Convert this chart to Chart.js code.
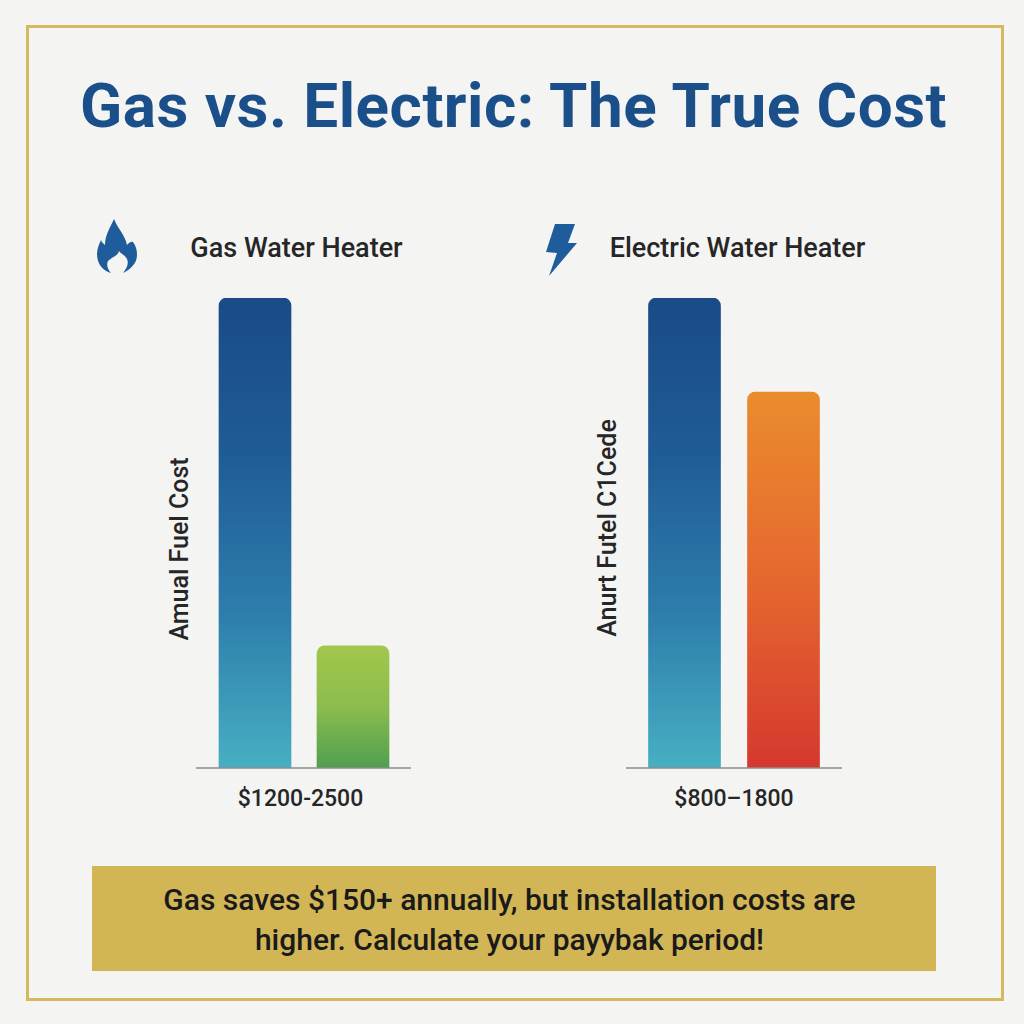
<!DOCTYPE html>
<html>
<head>
<meta charset="utf-8">
<title>Gas vs. Electric: The True Cost</title>
<script src="https://cdn.jsdelivr.net/npm/chart.js@4"></script>
<style>
html,body{margin:0;padding:0;background:#f4f4f3}
body{position:relative;width:1024px;height:1024px;overflow:hidden;font-family:Roboto,sans-serif;font-weight:700;color:#262626}
#frame{position:absolute;left:26px;top:25px;width:972px;height:970px;border:3px solid #d4b95f}
.txt{position:absolute;white-space:nowrap;transform:translate(-50%,-50%)}
.rot{position:absolute;white-space:nowrap;transform:translate(-50%,-50%) rotate(-90deg);font-size:25px;font-weight:500}
#title{left:513.5px;top:105px;font-size:62px;color:#1b4f8a;letter-spacing:.5px}
.head{font-size:27px;font-weight:500}
.range{font-size:23px;font-weight:500}
#note{position:absolute;left:92px;top:866px;width:844px;height:105px;background:#d2b655}
.noteline{font-size:30px;color:#1a1a1a;font-weight:500}
canvas{position:absolute}
#icons{position:absolute;left:0;top:0}
</style>
</head>
<body>
<div id="frame"></div>
<div class="txt" id="title"></div>

<svg id="icons" width="1024" height="1024">
<path fill="#1f5c9b" d="M114 219 C118 229 125 235 127 245 C129 243 131 241 133 242 C136 246 137 250 137 255 C137 263 131 269 123 273 C127 268 129 263 127 259 C125 255 121 254 119 251 C118 256 112 257 108 261 C106 265 108 270 111 273 C103 271 97 264 97 254 C97 249 99 244 101 240 C102 243 104 244 105 245 C105 235 110 228 114 219 Z"/>
<path fill="#1f5c9b" d="M555 224 L575 224 L568 243 L577 243 L549 276 L557 253 L546 252 Z"/>
</svg>

<div class="txt head" id="gasHead" style="left:296.5px;top:248px"></div>
<div class="txt head" id="elecHead" style="left:737.5px;top:248px"></div>

<canvas id="gasChart" width="215" height="480" style="left:196px;top:290px"></canvas>
<canvas id="elecChart" width="216" height="480" style="left:626px;top:290px"></canvas>

<div class="rot" id="gasAxis" style="left:179px;top:549px"></div>
<div class="rot" id="elecAxis" style="left:607px;top:528px"></div>
<div class="txt range" id="gasRange" style="left:300.5px;top:798px"></div>
<div class="txt range" id="elecRange" style="left:734px;top:798px"></div>

<div id="note"></div>
<div class="txt noteline" id="note1" style="left:509.5px;top:899px"></div>
<div class="txt noteline" id="note2" style="left:509.5px;top:939px"></div>

<script>
const titleText = "Gas vs. Electric: The True Cost"
const chartHeads = ["Gas Water Heater", "Electric Water Heater"]
const axisTitles = ["Amual Fuel Cost", "Anurt Futel C1Cede"]
const rangeLabels = ["$1200-2500", "$800–1800"]
const noteLines = ["Gas saves $150+ annually, but installation costs are", "higher. Calculate your payybak period!"]

const barNames = ["High", "Low"]
const gasValues = [2500, 650]
const elecValues = [1800, 1440]


document.getElementById("title").textContent = titleText
document.getElementById("gasHead").textContent = chartHeads[0]
document.getElementById("elecHead").textContent = chartHeads[1]
document.getElementById("gasAxis").textContent = axisTitles[0]
document.getElementById("elecAxis").textContent = axisTitles[1]
document.getElementById("gasRange").textContent = rangeLabels[0]
document.getElementById("elecRange").textContent = rangeLabels[1]
document.getElementById("note1").textContent = noteLines[0]
document.getElementById("note2").textContent = noteLines[1]


// line under the bars, a bit wider than the plot area
const baseline = {
  id:"baseline",
  afterDatasetsDraw(chart){
    let y = chart.scales.y.getPixelForValue(0)
    let c = chart.ctx
    c.save()
    c.strokeStyle = "#8c8c8c"
    c.lineWidth = 1.5
    c.beginPath()
    c.moveTo(0,y)
    c.lineTo(chart.width,y)
    c.stroke()
    c.restore()
  }
}


function barGradient(ctx,stops){
  let chart = ctx.chart
  if(!chart.chartArea) return stops[stops.length-1]
  let y = chart.scales.y
  let g = chart.ctx.createLinearGradient(0,y.getPixelForValue(ctx.parsed.y),0,y.getPixelForValue(0))
  stops.forEach((s,i)=>g.addColorStop(i/(stops.length-1),s))
  return g
}


function drawBars(id,values,colors,pad){
  new Chart(document.getElementById(id),{
    type:"bar",
    data:{
      labels:barNames,
      datasets:[{
        data:values,
        barThickness:72,
        categoryPercentage:1,
        barPercentage:1,
        borderRadius:{topLeft:8,topRight:8},
        borderSkipped:"bottom",
        backgroundColor:ctx=>barGradient(ctx,colors[ctx.dataIndex])
      }]
    },
    options:{
      responsive:false,
      animation:false,
      layout:{padding:pad},
      plugins:{legend:{display:false},tooltip:{enabled:false}},
      scales:{
        x:{display:false},
        y:{display:false,min:0,max:values[0]}
      }
    },
    plugins:[baseline]
  })
}


const blue = ["#1a4b86","#1f5c96","#2d7dab","#47afc3"]

drawBars("gasChart",gasValues,[blue,["#a2c74b","#8cbc4e","#4f9f50"]],{left:10,right:9,top:8,bottom:2})
drawBars("elecChart",elecValues,[blue,["#ea8c2d","#e5682f","#d5382e"]],{left:9,right:9,top:8,bottom:2})
</script>
</body>
</html>
